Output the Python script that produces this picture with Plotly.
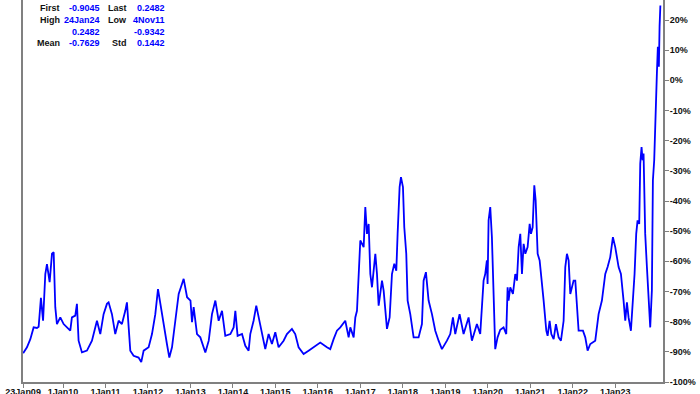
import datetime as dt
import plotly.graph_objects as go

# decimal-year positions and values (percent)
t_dec = [
    2009.061, 2009.151, 2009.23, 2009.308, 2009.386, 2009.426, 2009.48, 2009.53, 2009.583, 2009.622,
    2009.685, 2009.74, 2009.78, 2009.818, 2009.857, 2009.936, 2010.015, 2010.093, 2010.171, 2010.21,
    2010.289, 2010.328, 2010.367, 2010.446, 2010.564, 2010.682, 2010.8, 2010.878, 2010.956, 2011.035,
    2011.074, 2011.153, 2011.231, 2011.31, 2011.388, 2011.467, 2011.506, 2011.585, 2011.663, 2011.78,
    2011.843, 2011.9, 2012.017, 2012.096, 2012.174, 2012.237, 2012.29, 2012.37, 2012.447, 2012.503,
    2012.566, 2012.644, 2012.723, 2012.8, 2012.84, 2012.92, 2013.0, 2013.036, 2013.075, 2013.154,
    2013.232, 2013.35, 2013.43, 2013.507, 2013.586, 2013.664, 2013.743, 2013.82, 2013.94, 2014.017,
    2014.057, 2014.11, 2014.214, 2014.292, 2014.37, 2014.409,
    2014.487, 2014.55, 2014.605, 2014.684, 2014.762, 2014.841, 2014.919, 2014.998, 2015.076, 2015.194,
    2015.272, 2015.39, 2015.468, 2015.547, 2015.665, 2015.782, 2015.9, 2016.057, 2016.214, 2016.292,
    2016.371, 2016.449, 2016.528, 2016.645, 2016.724, 2016.763, 2016.842, 2016.881, 2016.92, 2016.959,
    2016.998, 2017.077, 2017.116, 2017.155, 2017.195, 2017.234, 2017.273, 2017.352, 2017.391, 2017.43,
    2017.509, 2017.548, 2017.587, 2017.626, 2017.689, 2017.744, 2017.799, 2017.846, 2017.877, 2017.924,
    2017.956, 2018.003, 2018.034, 2018.081, 2018.113, 2018.175, 2018.254, 2018.371, 2018.45, 2018.489,
    2018.544, 2018.607, 2018.686, 2018.764, 2018.842, 2018.921, 2019.039, 2019.117, 2019.18, 2019.235,
    2019.337, 2019.431, 2019.549, 2019.627, 2019.745, 2019.823, 2019.902, 2019.941, 2019.98, 2019.996,
    2020.02, 2020.059, 2020.098, 2020.137, 2020.176, 2020.231, 2020.294,
    2020.372, 2020.435, 2020.467, 2020.49, 2020.529, 2020.592, 2020.647, 2020.686, 2020.726, 2020.765,
    2020.804, 2020.843, 2020.883, 2020.937, 2020.985, 2021.016, 2021.055, 2021.094, 2021.126, 2021.173,
    2021.22, 2021.259, 2021.314, 2021.377, 2021.408, 2021.455, 2021.495, 2021.55, 2021.604, 2021.667,
    2021.722, 2021.785, 2021.824, 2021.863, 2021.903, 2021.942, 2022.02, 2022.06, 2022.099, 2022.138,
    2022.24, 2022.295, 2022.35, 2022.413, 2022.53, 2022.609, 2022.687, 2022.766, 2022.821, 2022.883,
    2022.946, 2023.001, 2023.08, 2023.135, 2023.197, 2023.237, 2023.276, 2023.315, 2023.37, 2023.417,
    2023.456, 2023.495, 2023.527, 2023.566, 2023.59, 2023.621, 2023.645, 2023.668, 2023.707, 2023.747,
    2023.786, 2023.825, 2023.864, 2023.888, 2023.919, 2023.943, 2023.982, 2024.005, 2024.029, 2024.045,
    2024.064,
]
values = [
    -90.45, -88.5, -85.8, -81.9, -82.1, -81.7, -72.1, -79.7, -64.2, -60.9,
    -66.9, -57.5, -57.0, -75.2, -80.8, -78.6, -80.8, -81.9, -83.0, -78.6,
    -78.0, -74.1, -86.3, -90.2, -89.6, -86.3, -79.7, -84.1, -77.5, -74.1,
    -73.6, -77.5, -84.1, -79.7, -80.8, -76.4, -73.6, -89.6, -91.3, -91.9,
    -93.42, -89.6, -88.5, -84.1, -77.5, -69.2, -74.1, -81.9, -87.4, -91.9,
    -88.5, -79.7, -70.8, -67.5, -65.8, -71.9, -73.0, -80.2, -75.2, -84.1,
    -85.2, -90.2, -86.3, -77.5, -73.0, -79.7, -76.4, -84.7, -84.1, -81.9,
    -76.4, -84.7, -84.1, -88.0, -89.6, -84.1,
    -79.7, -74.7, -78.6, -84.1, -89.1, -84.1, -87.4, -83.5, -88.5, -86.3,
    -84.1, -82.4, -84.1, -88.5, -90.7, -89.6, -88.5, -86.9, -88.5, -89.1,
    -85.8, -83.0, -81.9, -79.7, -85.2, -81.9, -85.2, -78.6, -76.4, -61.9,
    -53.1, -55.3, -42.0, -50.9, -47.6, -64.2, -68.6, -57.5, -64.2, -74.7,
    -66.4, -69.7, -76.4, -82.4, -78.6, -64.2, -60.8, -63.1, -50.9, -35.4,
    -32.1, -35.4, -48.7, -57.5, -73.0, -77.5, -85.2, -85.2, -80.8, -66.4,
    -63.6, -73.0, -77.5, -83.0, -86.3, -89.1, -86.3, -84.1, -78.6, -84.1,
    -77.5, -84.1, -78.6, -86.3, -80.8, -84.1, -66.4, -64.2, -59.7, -67.5,
    -46.4, -42.0, -52.0, -75.2, -89.1, -85.2, -82.7,
    -81.9, -84.1, -68.6, -73.0, -68.6, -70.8, -64.2, -66.4, -55.3, -50.9,
    -64.2, -54.2, -57.5, -55.3, -47.6, -50.9, -48.7, -34.8, -39.8, -57.5,
    -59.7, -66.4, -73.0, -83.0, -84.7, -79.7, -84.1, -85.8, -80.8, -85.2,
    -86.3, -79.7, -61.9, -57.5, -59.7, -70.8, -66.4, -66.4, -76.4, -83.0,
    -83.0, -85.2, -89.6, -87.4, -86.3, -77.5, -73.0, -64.2, -61.9, -58.6,
    -52.0, -55.3, -61.9, -64.2, -73.0, -79.7, -73.6, -78.6, -83.0, -74.1,
    -64.2, -50.9, -46.4, -47.6, -27.6, -22.1, -26.5, -24.3, -50.9, -61.9,
    -73.0, -81.9, -69.7, -33.1, -26.5, -13.2, 2.3, 11.1, 4.5, 17.8,
    24.82,
]

x_tick_dates = ["2009-01-23", "2010-01-01", "2011-01-01", "2012-01-01", "2013-01-01",
                "2014-01-01", "2015-01-01", "2016-01-01", "2017-01-01", "2018-01-01",
                "2019-01-01", "2020-01-01", "2021-01-01", "2022-01-01", "2023-01-01"]
x_tick_labels = ["23Jan09", "1Jan10", "1Jan11", "1Jan12", "1Jan13", "1Jan14", "1Jan15",
                 "1Jan16", "1Jan17", "1Jan18", "1Jan19", "1Jan20", "1Jan21", "1Jan22", "1Jan23"]
y_tick_vals = [20, 10, 0, -10, -20, -30, -40, -50, -60, -70, -80, -90, -100]
y_tick_labels = ["20%", "10%", "0%", "-10%", "-20%", "-30%", "-40%", "-50%", "-60%",
                 "-70%", "-80%", "-90%", "-100%"]

stat_labels = [["First", "Last"], ["High", "Low"], ["", ""], ["Mean", "Std"]]
stat_values = [["-0.9045", "0.2482"], ["24Jan24", "4Nov11"], ["0.2482", "-0.9342"],
               ["-0.7629", "0.1442"]]


def to_date(t):
    y = int(t)
    start = dt.datetime(y, 1, 1)
    days = (dt.datetime(y + 1, 1, 1) - start).days
    return start + dt.timedelta(days=(t - y) * days)


dates = [to_date(t) for t in t_dec]

fig = go.Figure()
fig.add_trace(go.Scatter(x=dates, y=values, mode="lines",
                         line=dict(color="#0000ff", width=1.8), showlegend=False))

W, H = 700, 394
L, R, T, B = 23, 37, 0, 12
pw, ph = W - L - R, H - T - B


def px(x):
    return (x - L) / pw


def py(y):
    return 1 - (y - T) / ph


font_b = "Liberation Sans"
FS = 9
annotations = []
rows_y = [8.5, 20, 31.5, 43]
for i, yy in enumerate(rows_y):
    lab1, lab2 = stat_labels[i]
    v1, v2 = stat_values[i]
    if lab1:
        annotations.append(dict(x=px(61), y=py(yy), text="<b>%s</b>" % lab1, xanchor="right"))
    annotations.append(dict(x=px(101), y=py(yy), text="<b>%s</b>" % v1, xanchor="right",
                            font=dict(color="#0000ff", size=FS, family=font_b)))
    if lab2:
        annotations.append(dict(x=px(128), y=py(yy), text="<b>%s</b>" % lab2, xanchor="right"))
    annotations.append(dict(x=px(166), y=py(yy), text="<b>%s</b>" % v2, xanchor="right",
                            font=dict(color="#0000ff", size=FS, family=font_b)))
for a in annotations:
    a.update(xref="paper", yref="paper", yanchor="middle", showarrow=False,
             borderpad=0, xshift=0)
    a.setdefault("font", dict(color="#111111", size=FS, family=font_b))

fig.update_layout(
    width=W, height=H,
    margin=dict(l=L, r=R, t=T, b=B, pad=0, autoexpand=False),
    paper_bgcolor="white", plot_bgcolor="white",
    annotations=annotations,
    font=dict(family=font_b, size=FS, color="#111111"),
)
fig.update_xaxes(
    automargin=False,
    range=["2009-01-22", "2024-02-16"],
    tickvals=x_tick_dates, ticktext=["<b>%s</b>" % s for s in x_tick_labels],
    ticks="outside", ticklen=4, tickwidth=1, tickcolor="#808080",
    ticklabelstandoff=-4,
    showline=True, linecolor="#808080", linewidth=2,
    showgrid=False, zeroline=False,
    tickfont=dict(size=FS, family=font_b, color="#111111"),
)
fig.update_yaxes(
    automargin=False,
    side="right", range=[-100, 26.63],
    tickvals=y_tick_vals, ticktext=["<b>%s</b>" % s for s in y_tick_labels],
    ticks="outside", ticklen=4, tickwidth=1, tickcolor="#808080",
    ticklabelstandoff=-1,
    showline=True, mirror=True, linecolor="#808080", linewidth=2,
    showgrid=False, zeroline=False,
    tickfont=dict(size=FS, family=font_b, color="#111111"),
)

fig.write_html("out.html", config={"displayModeBar": False},
               post_script="document.body.style.margin='0';document.body.style.overflow='hidden';")
